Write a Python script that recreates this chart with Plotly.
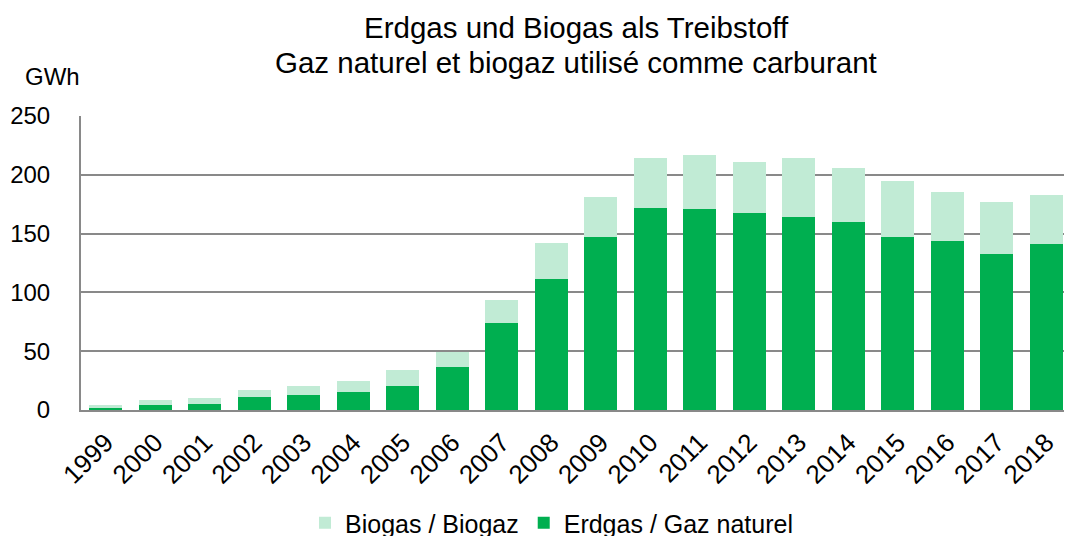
import plotly.graph_objects as go

years = [str(y) for y in range(1999, 2019)]
erdgas = [1.5, 4.5, 5.4, 10.8, 12.5, 15.3, 20.7, 36.6, 74.3, 111.7,
          147.4, 171.5, 170.9, 167.5, 164.4, 159.9, 146.8, 143.7, 132.4, 141.2]
total = [4.5, 8.5, 10.5, 17.0, 20.1, 24.9, 33.7, 49.6, 93.5, 141.7,
         180.8, 214.3, 216.8, 210.9, 214.3, 205.5, 194.7, 185.4, 176.9, 182.5]
biogas = [round(t - e, 1) for t, e in zip(total, erdgas)]
y_ticks = [0, 50, 100, 150, 200, 250]
title_lines = ["Erdgas und Biogas als Treibstoff",
               "Gaz naturel et biogaz utilisé comme carburant"]

FONT = "Liberation Sans, Arial, sans-serif"
OFF = 8  # page body margin
W, H = 1072, 536
# target page positions of plot area
PL, PR, PT, PB = 81, 1071, 116, 410
L, T = PL - OFF, PT - OFF
R = W - (PR - OFF)
B = H - (PB - OFF)
PW, PH = W - L - R, H - T - B


def px(xpage):
    return (xpage - OFF - L) / PW


def py(ypage):
    return (H - B - (ypage - OFF)) / PH


fig = go.Figure()
fig.add_trace(go.Bar(x=years, y=erdgas, name="Erdgas / Gaz naturel",
                     marker=dict(color="#00AF50", line=dict(width=0))))
fig.add_trace(go.Bar(x=years, y=biogas, name="Biogas / Biogaz",
                     marker=dict(color="#C1EBD5", line=dict(width=0))))

fig.update_layout(
    barmode="stack",
    bargap=0.34,
    width=W, height=H,
    margin=dict(l=L, r=R, t=T, b=B, autoexpand=False),
    paper_bgcolor="white", plot_bgcolor="white",
    font=dict(family=FONT, size=24, color="black"),
    showlegend=True,
    legend=dict(orientation="h", x=px(552), xanchor="center", y=py(523), yanchor="middle",
                traceorder="reversed", font=dict(size=25), itemwidth=30,
                bgcolor="rgba(0,0,0,0)"),
    xaxis=dict(type="category", tickangle=-45, showgrid=False, automargin=False,
               showline=True, linecolor="#898989", linewidth=2,
               ticks="", ticklabelstandoff=5, tickfont=dict(size=26)),
    yaxis=dict(range=[0, 250], tickvals=y_ticks, showgrid=True, automargin=False,
               gridcolor="#898989", gridwidth=1.5,
               showline=True, linecolor="#898989", linewidth=2,
               ticks="", ticklabelstandoff=24, tickfont=dict(size=24),
               zeroline=False),
)

annots = [
    dict(text=title_lines[0], x=0.5, y=py(27), font=dict(size=29.5)),
    dict(text=title_lines[1], x=0.5, y=py(62), font=dict(size=29.5)),
    dict(text="GWh", x=px(52), y=py(76), font=dict(size=24)),
]
for a in annots:
    a.update(xref="paper", yref="paper", xanchor="center", yanchor="middle",
             showarrow=False)
fig.update_layout(annotations=annots)

fig.write_html("out.html")
